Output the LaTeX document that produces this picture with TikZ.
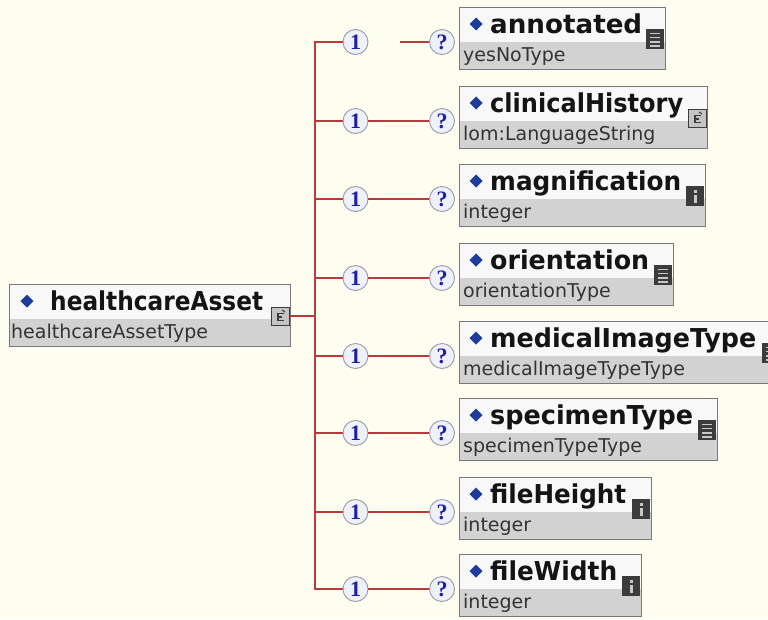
\documentclass[tikz,border=0pt]{standalone}
\usepackage{fontspec}
\usepackage{graphicx}
\newfontfamily\tfont{DejaVu Sans}
\newfontfamily\nfont{Liberation Serif}
\definecolor{bg}{HTML}{FDFDF0}
\definecolor{wirec}{HTML}{B83A3A}
\definecolor{boxwhite}{HTML}{F8F8F8}
\definecolor{boxgray}{HTML}{D2D2D2}
\definecolor{boxborder}{HTML}{787878}
\definecolor{diamondc}{HTML}{1E3C9C}
\definecolor{icondark}{HTML}{3C3C3C}
\definecolor{iconlight}{HTML}{C8C8C8}
\definecolor{cplxfill}{HTML}{C4C4C4}
\definecolor{circgray}{HTML}{9A9AA8}
\definecolor{circfill}{HTML}{EEF0FA}
\definecolor{numblue}{HTML}{1E1EA8}
\definecolor{subtext}{HTML}{333333}
\tikzset{
  wire/.style={draw=wirec, line width=1.5pt},
  boxframe/.style={draw=boxborder, line width=1.3pt, inner sep=0pt, rectangle},
  titlestyle/.style={anchor=base west, inner sep=0pt, text=black!92,
    font=\tfont\bfseries\fontsize{26}{26}\selectfont},
  substyle/.style={anchor=base west, inner sep=0pt, text=subtext,
    font=\tfont\fontsize{19}{19}\selectfont},
  cnt/.style={circle, draw=circgray, line width=0.9pt, fill=circfill,
    minimum size=25pt, inner sep=0pt, text=numblue,
    font=\nfont\bfseries\fontsize{22}{22}\selectfont},
}
\newcommand\iconlist[2]{%
  \fill[icondark] ({#1-19},{#2+22}) rectangle ({#1-1},{#2+42});
  \foreach \k in {0,1,2,3}
    \draw[iconlight, line width=1.5pt] ({#1-15},{#2+26.5+4.2*\k}) -- ({#1-5},{#2+26.5+4.2*\k});
}
\newcommand\iconinfo[2]{%
  \fill[icondark] ({#1-19},{#2+22}) rectangle ({#1-1},{#2+42});
  \fill[iconlight] ({#1-11.5},{#2+25.5}) rectangle ({#1-8.5},{#2+28.5});
  \fill[iconlight] ({#1-11.5},{#2+30.5}) rectangle ({#1-8.5},{#2+38.5});
}
\newcommand\iconcplx[2]{%
  \filldraw[fill=cplxfill, draw=icondark, line width=1pt] ({#1-19},{#2+23}) rectangle ({#1-1},{#2+41});
  \draw[icondark, line width=1.1pt] ({#1-6},{#2+29.5}) -- ({#1-12},{#2+29.5}) -- ({#1-12},{#2+36.5}) -- ({#1-6},{#2+36.5});
  \draw[icondark, line width=1.1pt] ({#1-12},{#2+33}) -- ({#1-8.5},{#2+33});
  \draw[icondark, line width=1pt] ({#1-8},{#2+26}) -- ({#1-5},{#2+28});
}
% child element: name, top, right, title, title width, subtitle, icon type
\newcommand\child[7]{%
  \fill[boxwhite] (459,#2) rectangle (#3,{#2+35});
  \fill[boxgray] (459,{#2+35}) rectangle (#3,{#2+62});
  \node[boxframe, anchor=north west, minimum width={#3-459}, minimum height=62pt] (#1) at (459,#2) {};
  \fill[diamondc] (476,{#2+10.5}) -- (482.5,{#2+17}) -- (476,{#2+23.5}) -- (469.5,{#2+17}) -- cycle;
  \node[titlestyle] (#1-t) at (490,{#2+26}) {\resizebox{#5pt}{\height}{#4}};
  \node[substyle] (#1-s) at (463,{#2+54}) {#6};
  \csname icon#7\endcsname{#3}{#2}%
}
\begin{document}
\begin{tikzpicture}[x=1pt, y=-1pt]
\clip (0,0) rectangle (768,619);
\fill[bg] (0,0) rectangle (768,619);

% root element
\fill[boxwhite] (9,284) rectangle (290,319);
\fill[boxgray] (9,319) rectangle (290,346);
\node[boxframe, anchor=north west, minimum width=281pt, minimum height=62pt] (root) at (9,284) {};
\fill[diamondc] (27,294.5) -- (33.5,301) -- (27,307.5) -- (20.5,301) -- cycle;
\node[titlestyle] (root-t) at (50,310) {\resizebox{213pt}{\height}{healthcareAsset}};
\node[substyle] (root-s) at (11,338) {healthcareAssetType};

% cardinality circles
\foreach \i/\y in {1/42,2/121,3/199,4/278,5/356,6/433,7/512,8/589}{
  \coordinate (s\i) at (315,\y);
  \node[cnt] (o\i) at (355.5,\y) {1};
  \node[cnt] (q\i) at (442,\y) {?};
}
\coordinate (g1) at (400,42);
\coordinate (rs) at (315,316);
\coordinate (re) at (290,316);

% connectors
\draw[wire] (re) -- (rs);
\draw[wire] (o1.west) -- (s1) -- (s8) -- (o8.west);
\foreach \i in {2,...,7}{ \draw[wire] (s\i) -- (o\i.west); }
\draw[wire] (g1) -- (q1.west);
\foreach \i in {2,...,8}{ \draw[wire] (o\i.east) -- (q\i.west); }

\iconcplx{290}{284}

% children
\child{e1}{7}{665}{annotated}{152}{yesNoType}{list}
\child{e2}{86}{707}{clinicalHistory}{193}{lom:LanguageString}{cplx}
\child{e3}{164}{705}{magnification}{191}{integer}{info}
\child{e4}{243}{673}{orientation}{159}{orientationType}{list}
\child{e5}{321}{781}{medicalImageType}{266}{medicalImageTypeType}{list}
\child{e6}{398}{717}{specimenType}{203}{specimenTypeType}{list}
\child{e7}{477}{651}{fileHeight}{136}{integer}{info}
\child{e8}{554}{641}{fileWidth}{127}{integer}{info}
\end{tikzpicture}
\end{document}
